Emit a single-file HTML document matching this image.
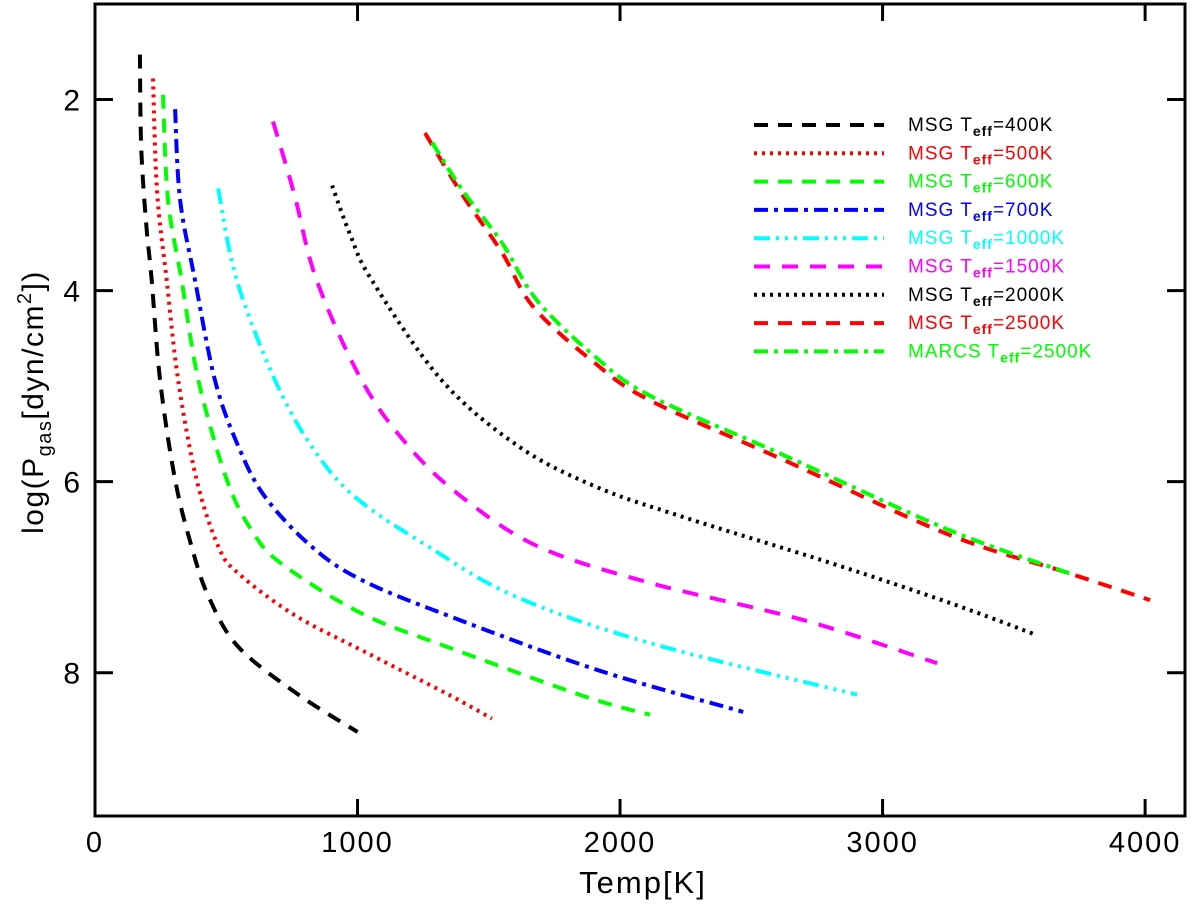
<!DOCTYPE html>
<html><head><meta charset="utf-8"><style>
body{margin:0;background:#fff;}
svg text{font-family:"Liberation Sans",sans-serif;}
</style></head><body>
<svg id="chart" width="1200" height="917" xmlns="http://www.w3.org/2000/svg">
<rect width="1200" height="917" fill="#fff"/>
<g id="curves"></g>
<rect x="95" y="4" width="1090" height="812" fill="none" stroke="#000" stroke-width="3"/>
<g id="axes"></g>
<text x="643" y="893" font-size="31" letter-spacing="2" text-anchor="middle">Temp[K]</text>
<text transform="translate(43,402) rotate(-90)" font-size="30" letter-spacing="1.5" text-anchor="middle">log(P<tspan font-size="20" dy="8">gas</tspan><tspan dy="-8">[dyn/cm</tspan><tspan font-size="20" dy="-12">2</tspan><tspan dy="12">])</tspan></text>
<g id="legend"></g>
</svg>
<script>
const xTicks=[0,1000,2000,3000,4000];
const yTicks=[2,4,6,8];
const seriesNames=["MSG","MSG","MSG","MSG","MSG","MSG","MSG","MSG","MARCS"];
const seriesTeff=["400K","500K","600K","700K","1000K","1500K","2000K","2500K","2500K"];
const s400T=[171,176,195,216,248,305,368,432,546,775,1000];
const s400P=[1.53,2.5,3.3,3.89,4.94,5.98,6.68,7.2,7.73,8.23,8.62];
const s500T=[221,236,273,317,387,470,546,762,1041,1340,1512];
const s500P=[1.78,2.95,3.89,4.94,5.98,6.68,6.96,7.4,7.8,8.22,8.48];
const s600T=[259,278,330,394,502,597,711,1016,1352,1867,2114];
const s600P=[1.95,3.05,3.89,4.94,5.98,6.51,6.86,7.38,7.74,8.25,8.44];
const s700T=[305,324,381,457,546,648,825,1016,1352,1912,2469];
const s700P=[2.1,3.05,3.89,4.94,5.63,6.16,6.68,7.03,7.41,7.97,8.41];
const s1000T=[469,540,686,825,990,1270,1600,2114,2903];
const s1000P=[2.93,3.89,4.94,5.63,6.16,6.68,7.2,7.69,8.23];
const s1500T=[678,760,844,1016,1194,1397,1689,2114,2700,3208];
const s1500P=[2.23,3.0,3.89,4.94,5.63,6.16,6.68,7.06,7.45,7.9];
const s2000T=[903,970,1054,1321,1613,1905,2240,2800,3257,3581];
const s2000P=[2.9,3.4,3.89,4.94,5.63,6.05,6.37,6.85,7.27,7.6];
const s2500T=[1257,1400,1550,1669,1900,2114,2621,3257,3700,4019];
const s2500P=[2.35,3.0,3.6,4.17,4.75,5.15,5.77,6.56,6.95,7.24];
const marcsT=[1284,1400,1550,1683,1900,2114,2621,3257,3733];
const marcsP=[2.45,2.95,3.5,4.1,4.68,5.1,5.72,6.51,6.98];

const NS="http://www.w3.org/2000/svg";
const X0=95,X1=1185,Y0=4,Y1=816,XMAX=4152,YMIN=1,YMAX=9.5;
function xs(v){return X0+(v/XMAX)*(X1-X0);}
function ys(v){return Y0+(v-YMIN)/(YMAX-YMIN)*(Y1-Y0);}
const styles=[
 {c:"#000",d:"14,10"},{c:"#ff0000",d:"3,5"},{c:"#00ff00",d:"14,10"},{c:"#0000ff",d:"14,6,4,6"},
 {c:"#00ffff",d:"16,6,3,6,3,6,3,6"},{c:"#ff00ff",d:"16,12"},{c:"#000",d:"3,5"},{c:"#ff0000",d:"14,10"},{c:"#00ff00",d:"14,6,4,6"}];
const allT=[s400T,s500T,s600T,s700T,s1000T,s1500T,s2000T,s2500T,marcsT];
const allP=[s400P,s500P,s600P,s700P,s1000P,s1500P,s2000P,s2500P,marcsP];
function smoothPath(pts){
 let d='M'+pts[0][0].toFixed(1)+','+pts[0][1].toFixed(1);
 for(let i=0;i<pts.length-1;i++){
  const p0=pts[Math.max(0,i-1)],p1=pts[i],p2=pts[i+1],p3=pts[Math.min(pts.length-1,i+2)];
  const c1=[p1[0]+(p2[0]-p0[0])/6,p1[1]+(p2[1]-p0[1])/6];
  const c2=[p2[0]-(p3[0]-p1[0])/6,p2[1]-(p3[1]-p1[1])/6];
  d+='C'+c1[0].toFixed(1)+','+c1[1].toFixed(1)+' '+c2[0].toFixed(1)+','+c2[1].toFixed(1)+' '+p2[0].toFixed(1)+','+p2[1].toFixed(1);
 }
 return d;
}
const cg=document.getElementById('curves');
allT.forEach((T,i)=>{
 const p=document.createElementNS(NS,'path');
 p.setAttribute('d',smoothPath(T.map((t,j)=>[xs(t),ys(allP[i][j])])));
 p.setAttribute('fill','none');p.setAttribute('stroke',styles[i].c);p.setAttribute('stroke-width','4');
 p.setAttribute('stroke-dasharray',styles[i].d);
 
 
 cg.appendChild(p);
});
const ag=document.getElementById('axes');
xTicks.forEach(v=>{
 const x=xs(v);
 ag.insertAdjacentHTML('beforeend',`<line x1="${x}" y1="${Y1}" x2="${x}" y2="${Y1-17}" stroke="#000" stroke-width="3"/><line x1="${x}" y1="${Y0}" x2="${x}" y2="${Y0+17}" stroke="#000" stroke-width="3"/>`);
 const t=document.createElementNS(NS,'text');
 t.setAttribute('x',x);t.setAttribute('y',852);t.setAttribute('font-size','29');t.setAttribute('letter-spacing','2');t.setAttribute('text-anchor','middle');
 t.textContent=v;
 
 
 ag.appendChild(t);
});
yTicks.forEach(v=>{
 const y=ys(v);
 ag.insertAdjacentHTML('beforeend',`<line x1="${X0}" y1="${y}" x2="${X0+18}" y2="${y}" stroke="#000" stroke-width="3"/><line x1="${X1}" y1="${y}" x2="${X1-18}" y2="${y}" stroke="#000" stroke-width="3"/>`);
 const t=document.createElementNS(NS,'text');
 t.setAttribute('x',80);t.setAttribute('y',y+11);t.setAttribute('font-size','30');t.setAttribute('text-anchor','end');
 t.textContent=v;
 
 
 ag.appendChild(t);
});
const lg=document.getElementById('legend');
seriesNames.forEach((n,i)=>{
 const y=125+i*28.3;
 const l=document.createElementNS(NS,'line');
 l.setAttribute('x1',754);l.setAttribute('x2',884);l.setAttribute('y1',y);l.setAttribute('y2',y);
 l.setAttribute('stroke',styles[i].c);l.setAttribute('stroke-width','4');l.setAttribute('stroke-dasharray',styles[i].d);
 
 
 lg.appendChild(l);
 const t=document.createElementNS(NS,'text');
 t.setAttribute('x',908);t.setAttribute('y',y+6);t.setAttribute('font-size','19');t.setAttribute('letter-spacing','1');t.setAttribute('fill',styles[i].c);
 t.innerHTML=n+' T<tspan font-size="14" font-weight="bold" dy="5">eff</tspan><tspan dy="-5">='+seriesTeff[i]+'</tspan>';
 
 
 lg.appendChild(t);
});
</script>
</body></html>
